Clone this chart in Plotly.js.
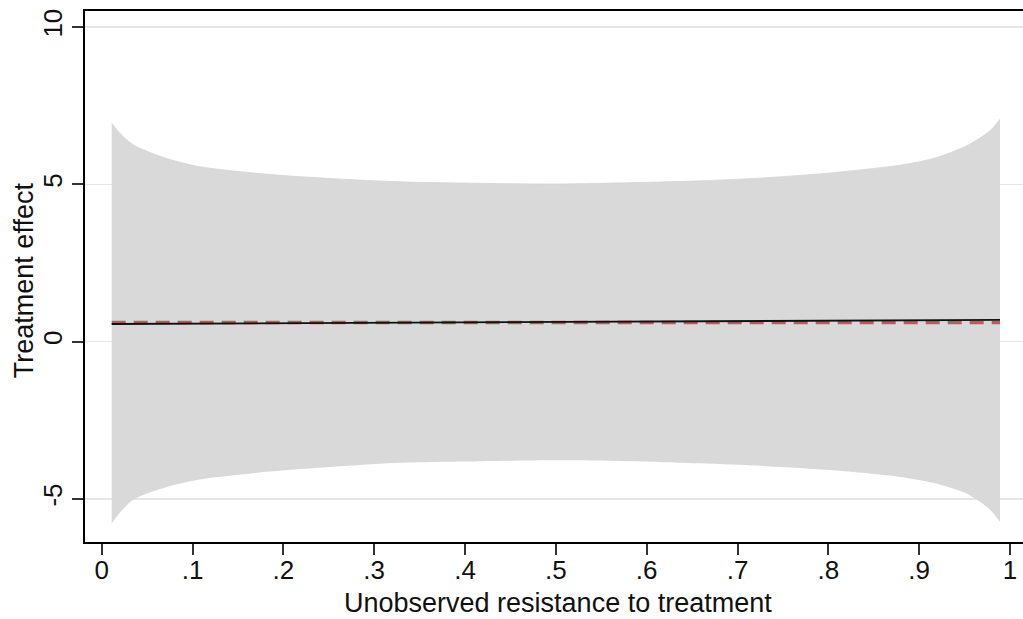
<!DOCTYPE html>
<html>
<head>
<meta charset="utf-8">
<script src="https://cdn.plot.ly/plotly-3.0.1.min.js"></script>
<style>html,body{margin:0;padding:0;overflow:hidden;background:#fff;}</style>
</head>
<body>
<div id="chart"></div>
<script>
const u = [0.011, 0.02, 0.035, 0.0715, 0.108, 0.182, 0.255, 0.328, 0.42, 0.5, 0.58, 0.659, 0.732, 0.805, 0.879, 0.9155, 0.952, 0.971, 0.98, 0.989];
const upper = [6.94, 6.62, 6.25, 5.82, 5.56, 5.32, 5.18, 5.08, 5.03, 5.01, 5.05, 5.11, 5.21, 5.37, 5.61, 5.82, 6.22, 6.55, 6.76, 7.07];
const lower = [-5.78, -5.44, -5.02, -4.62, -4.38, -4.14, -3.98, -3.85, -3.80, -3.77, -3.80, -3.87, -3.96, -4.09, -4.30, -4.49, -4.83, -5.18, -5.40, -5.73];
const mteX = [0.011, 0.989];
const mteY = [0.56, 0.69];
const ateX = [0.011, 0.989];
const ateY = [0.61, 0.61];
const xTicks = [0, 0.1, 0.2, 0.3, 0.4, 0.5, 0.6, 0.7, 0.8, 0.9, 1];
const xTickText = ['0', '.1', '.2', '.3', '.4', '.5', '.6', '.7', '.8', '.9', '1'];
const yTicks = [-5, 0, 5, 10];
const yTickText = ['-5', '0', '5', '10'];
const xTitle = 'Unobserved resistance to treatment';
const yTitle = 'Treatment effect';

const traces = [
  {x: u, y: lower, mode: 'lines', line: {width: 0, color: '#d9d9d9', shape: 'spline', smoothing: 0.8}, hoverinfo: 'skip', showlegend: false},
  {x: u, y: upper, mode: 'lines', fill: 'tonexty', fillcolor: '#d9d9d9', line: {width: 0.8, color: '#d4d4d4', shape: 'spline', smoothing: 0.8}, hoverinfo: 'skip', showlegend: false},
  {x: ateX, y: ateY, mode: 'lines', line: {color: 'rgba(175,70,70,0.85)', width: 3.5, dash: '14px,8px'}, showlegend: false},
  {x: mteX, y: mteY, mode: 'lines', line: {color: '#111', width: 1.8}, showlegend: false}
];

const layout = {
  width: 1045, height: 619,
  margin: {l: 85, r: 15, t: 11, b: 77.3},
  paper_bgcolor: '#fff', plot_bgcolor: '#fff',
  font: {family: 'Liberation Sans, Arial, sans-serif', color: '#111', size: 26},
  showlegend: false,
  xaxis: {
    range: [-0.0184, 1.022], tickvals: xTicks, ticktext: xTickText,
    showgrid: false, zeroline: false, showline: true, mirror: true, linecolor: '#000', linewidth: 2,
    ticks: 'outside', ticklen: 11, tickwidth: 2, tickcolor: '#333',
    tickfont: {size: 26}, ticklabelstandoff: -7, automargin: false
  },
  yaxis: {
    range: [-6.37, 10.51], tickvals: yTicks, ticktext: yTickText, tickangle: -90,
    showgrid: true, gridcolor: '#e6e6e6', gridwidth: 1.5, zeroline: false,
    showline: true, linecolor: '#000', linewidth: 2,
    ticks: 'outside', ticklen: 11, tickwidth: 2, tickcolor: '#333',
    tickfont: {size: 26}, automargin: false
  },
  annotations: [
    {text: xTitle, xref: 'paper', yref: 'paper', x: 0.5, y: -0.1155, xanchor: 'center', yanchor: 'middle', showarrow: false, font: {size: 27, color: '#111'}},
    {text: yTitle, xref: 'paper', yref: 'paper', x: -0.0646, y: 0.493, xanchor: 'center', yanchor: 'middle', textangle: -90, showarrow: false, font: {size: 27, color: '#111'}}
  ]
};
Plotly.newPlot('chart', traces, layout, {displayModeBar: false, staticPlot: true});
</script>
</body>
</html>
